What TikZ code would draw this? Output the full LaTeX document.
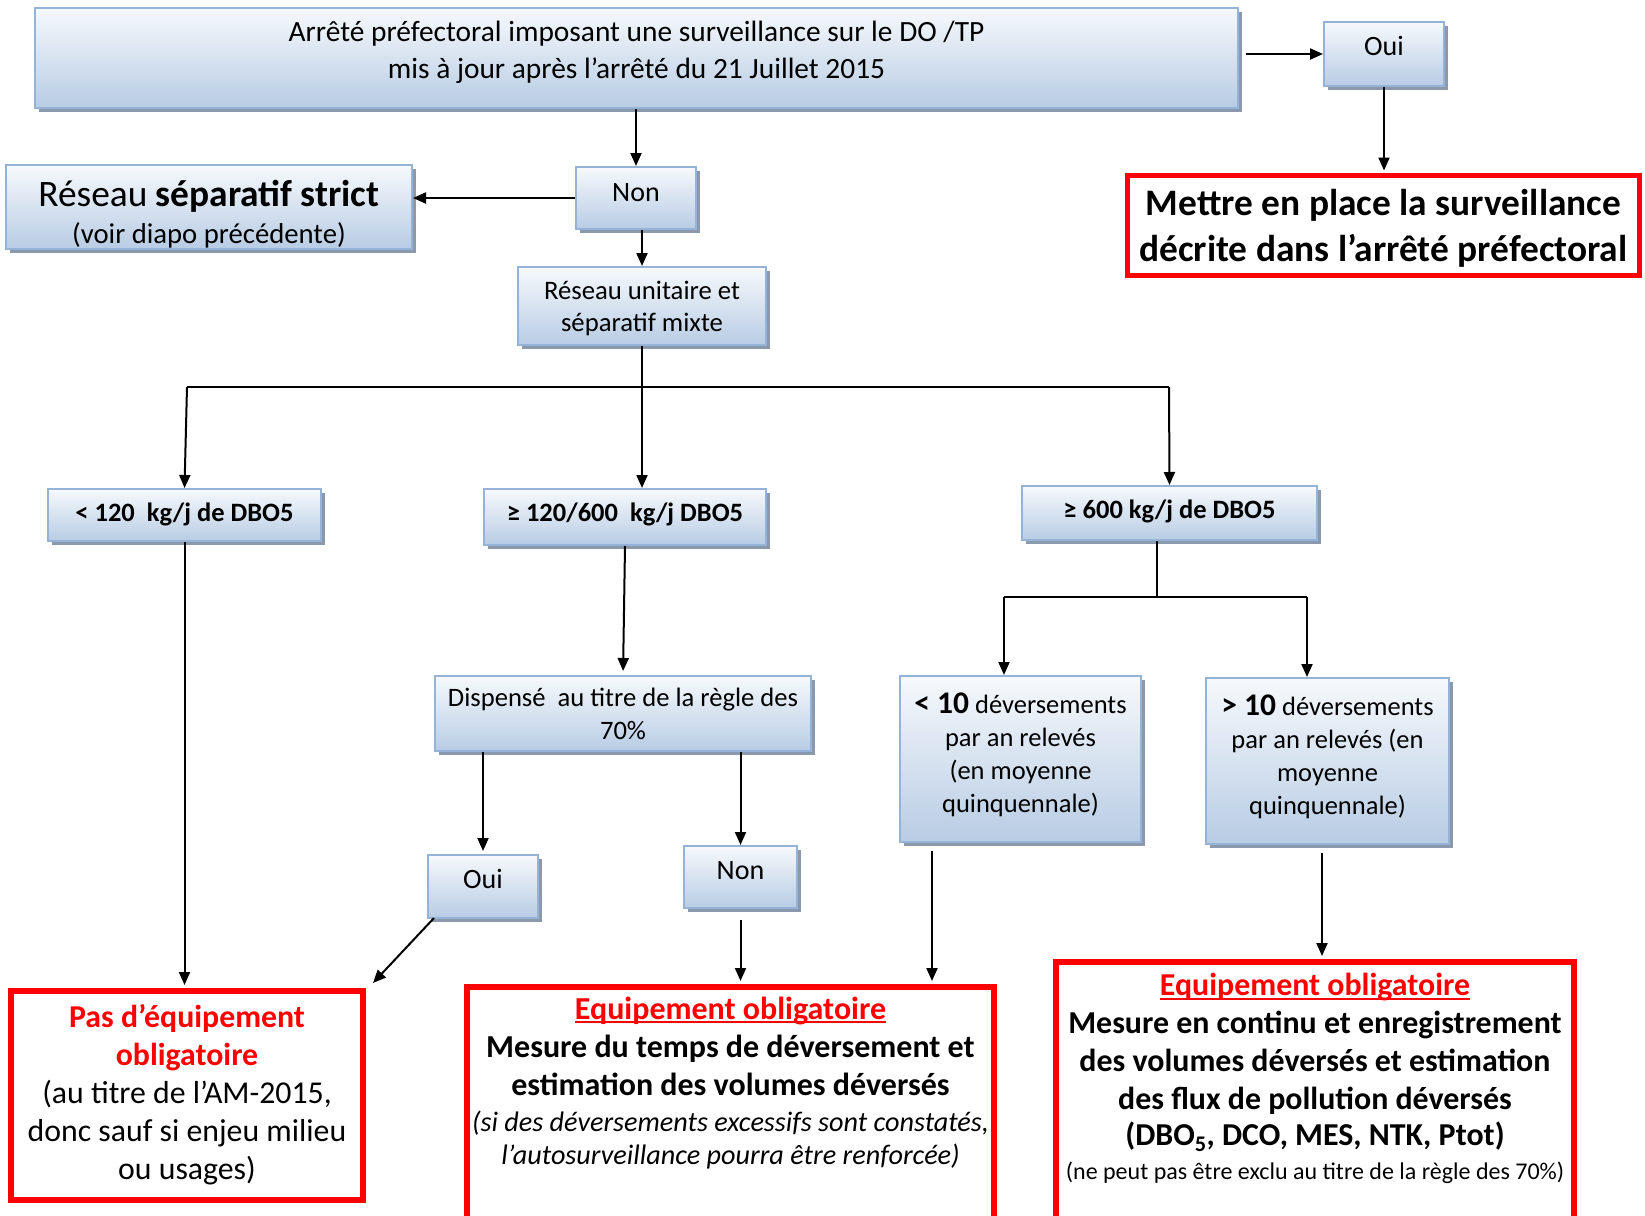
\documentclass[tikz,border=0pt]{standalone}
\usepackage{fontspec}
\setmainfont{Carlito}
\usetikzlibrary{arrows.meta,shadows,calc}
\definecolor{bline}{RGB}{149,179,215}
\definecolor{btop}{RGB}{246,249,252}
\definecolor{bbot}{RGB}{184,204,228}
\definecolor{bshad}{RGB}{140,153,172}
\definecolor{rred}{RGB}{255,0,0}
\newcommand\lines[2][0pt]{\begin{tabular}{@{}c@{}}\noalign{\vskip#1}#2\end{tabular}}
\newcommand\fs[2]{\fontsize{#1}{#2}\selectfont}
\newcommand\ulx[1]{\begingroup\setbox0\hbox{#1}\rlap{\rule[-4pt]{\wd0}{2pt}}\box0\endgroup}
\begin{document}
\begin{tikzpicture}[x=1pt,y=-1pt,
  bbox/.style={draw=bline, line width=2pt, top color=btop, bottom color=bbot, inner sep=0pt,
    drop shadow={shadow xshift=4pt, shadow yshift=-4pt, fill=bshad, opacity=1}},
  rbox/.style={draw=rred, line width=6pt, fill=white, inner sep=0pt},
  arr/.style={line width=2pt, -{Triangle[length=13pt,width=11pt]}},
  ln/.style={line width=2pt}]
\useasboundingbox (0,0) rectangle (1645,1215);
\clip (0,0) rectangle (1645,1215);
\fill[white] (0,0) rectangle (1645,1215);

% blue boxes
\node[bbox, minimum width=1203pt, minimum height=100pt, font=\fs{29.4}{37}] (top) at (636.5,58)
  {\lines{Arrêté préfectoral imposant une surveillance sur le DO /TP\\ mis à jour après l’arrêté du 21 Juillet 2015\\[10pt]}};
\node[bbox, minimum width=120pt, minimum height=64pt, font=\fs{28}{34}] (ouiT) at (1384,54) {\lines{Oui\\[10pt]}};
\node[bbox, minimum width=120pt, minimum height=62pt, font=\fs{28}{34}] (nonT) at (636,198) {\lines{Non\\[6pt]}};
\node[bbox, minimum width=406pt, minimum height=84pt, font=\fs{28.7}{37}] (strict) at (209,207)
  {\lines[8pt]{{\fs{37.4}{37}Réseau \textbf{séparatif strict}}\\ (voir diapo précédente)\\[-12pt]}};
\node[bbox, minimum width=248pt, minimum height=78pt, font=\fs{26.7}{32.5}] (unit) at (642,306)
  {\lines[6pt]{Réseau unitaire et\\ séparatif mixte}};
\node[bbox, minimum width=273pt, minimum height=52pt, font=\fs{26.5}{31}\bfseries] (k1) at (184.5,515)
  {\lines{< 120~ kg/j de DBO5}};
\node[bbox, minimum width=282pt, minimum height=56pt, font=\fs{26.5}{31}\bfseries] (k2) at (625,517)
  {\lines{≥ 120/600~ kg/j DBO5\\[4pt]}};
\node[bbox, minimum width=295pt, minimum height=54pt, font=\fs{26.5}{31}\bfseries] (k3) at (1169.5,513)
  {\lines{≥ 600 kg/j de DBO5\\[2pt]}};
\node[bbox, minimum width=376pt, minimum height=75pt, font=\fs{26.6}{33}] (disp) at (623,713.5)
  {\lines[6pt]{Dispensé~ au titre de la règle des\\ 70\%}};
\node[bbox, minimum width=110pt, minimum height=63pt, font=\fs{28}{34}] (ouiB) at (483,886.5) {\lines{Oui\\[10pt]}};
\node[bbox, minimum width=113pt, minimum height=62pt, font=\fs{28}{34}] (nonB) at (740.5,877) {\lines{Non\\[8pt]}};
\node[bbox, minimum width=241pt, minimum height=166pt, font=\fs{26.5}{33}] (lt10) at (1020.5,759)
  {\lines{{\bfseries\fs{31.5}{33}< 10} déversements\\ par an relevés\\ (en moyenne\\ quinquennale)\\[6pt]}};
\node[bbox, minimum width=243pt, minimum height=166pt, font=\fs{26.5}{33}] (gt10) at (1327.5,761)
  {\lines{{\bfseries\fs{31.5}{33}> 10} déversements\\ par an relevés (en\\ moyenne\\ quinquennale)\\[6pt]}};

% red boxes
\node[rbox, line width=5pt, minimum width=512pt, minimum height=95pt, font=\fs{37.4}{46}\bfseries] (red1) at (1383.5,225)
  {\lines[8pt]{Mettre en place la surveillance\\ décrite dans l’arrêté préfectoral}};
\node[rbox, minimum width=352pt, minimum height=209pt, font=\fs{31.8}{38}] (pas) at (187,1095.5)
  {\lines{\color{rred}\bfseries Pas d’équipement\\ \color{rred}\bfseries obligatoire\\ (au titre de l’AM-2015,\\ donc sauf si enjeu milieu\\ ou usages)}};
\node[rbox, minimum width=527pt, minimum height=260pt, font=\fs{32}{38}] (eqm) at (730.5,1117)
  {\lines{\color{rred}\bfseries\ulx{Equipement obligatoire}\\
   \bfseries Mesure du temps de déversement et\\
   \bfseries estimation des volumes déversés\\[-2pt]
   \fs{28.2}{33}\itshape (si des déversements excessifs sont constatés,\\[-5pt]
   \fs{28.2}{33}\itshape l’autosurveillance pourra être renforcée)\\[66pt]}};
\node[rbox, minimum width=518pt, minimum height=290pt, font=\fs{31.9}{38}] (eqr) at (1315,1107)
  {\lines{\color{rred}\bfseries\ulx{Equipement obligatoire}\\
   \bfseries Mesure en continu et enregistrement\\
   \bfseries des volumes déversés et estimation\\
   \bfseries des flux de pollution déversés\\[-2pt]
   \bfseries (DBO\textsubscript{5}, DCO, MES, NTK, Ptot)\\[-4pt]
   \fs{24}{28}(ne peut pas être exclu au titre de la règle des 70\%)\\[54pt]}};

% junction points
\coordinate (jL) at (187,387);
\coordinate (jM) at (642,387);
\coordinate (jR) at (1169,387);
\coordinate (kM) at (1157,597);
\coordinate (kL) at (1004,597);
\coordinate (kR) at (1307,597);
\coordinate (a0) at ($(top.east |- ouiT.west)+(7,0)$);
\coordinate (a1) at ($(lt10.south west)+(33,8)$);
\coordinate (a2) at ($(gt10.south)+(-5.5,8)$);
\coordinate (a3) at ($(nonB.south)+(0,11)$);
\coordinate (a4) at ($(ouiB.south west)+(7,-1)$);

% connectors
\draw[arr] (a0) -- (ouiT.west);
\draw[arr, shorten >=2pt] (ouiT.south) -- (ouiT.south |- red1.north);
\draw[arr] (nonT.north |- top.south) -- (nonT.north);
\draw[arr] (nonT.west) -- (nonT.west -| strict.east);
\draw[arr] (unit.north |- nonT.south) -- (unit.north);
\draw[ln] (unit.south) -- (jM);
\draw[ln] (jL) -- (jR);
\draw[arr] (jL) -- (k1.north);
\draw[arr] (jM) -- (jM |- k2.north);
\draw[arr] (jR) -- (k3.north);
\draw[arr, shorten >=3pt] (k1.south) -- (k1.south |- pas.north);
\draw[arr, shorten >=4pt] (k2.south) -- (disp.north);
\draw[arr, shorten >=3pt] (ouiB.north |- disp.south) -- (ouiB.north);
\draw[arr] (nonB.north |- disp.south) -- (nonB.north);
\draw[arr] (a4) -- ($(pas.north east)+(7,-5)$);
\draw[arr, shorten >=3pt] (a3) -- (a3 |- eqm.north);
\draw[arr, shorten >=3pt] (a1) -- (a1 |- eqm.north);
\draw[ln] (kM |- k3.south) -- (kM);
\draw[ln] (kL) -- (kR);
\draw[arr] (kL) -- (kL |- lt10.north);
\draw[arr] (kR) -- (kR |- gt10.north);
\draw[arr, shorten >=3pt] (a2) -- (a2 |- eqr.north);
\end{tikzpicture}
\end{document}
